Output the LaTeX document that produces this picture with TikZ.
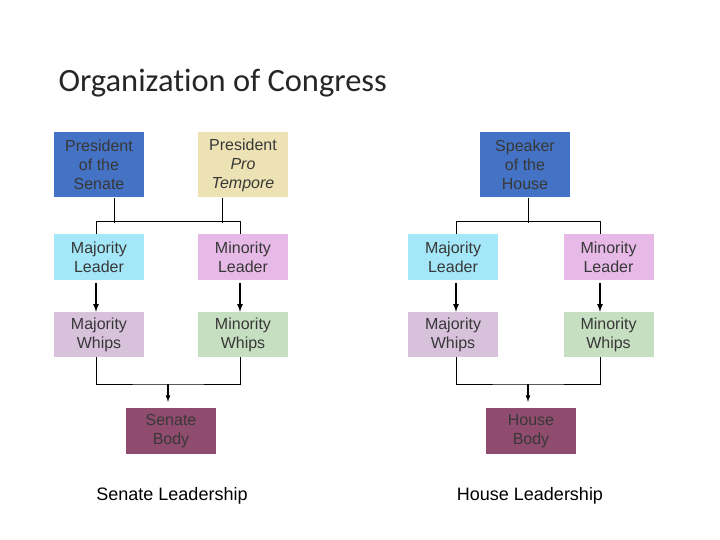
\documentclass[tikz,border=0pt]{standalone}
\usepackage{fontspec}
\setmainfont{Liberation Sans}
\newfontfamily\titlefont[Ligatures=NoCommon]{Carlito}
\usepackage{tikz}
\usetikzlibrary{arrows}
\definecolor{presBlue}{HTML}{4472C4}
\definecolor{proTan}{HTML}{EDE2B3}
\definecolor{majCyan}{HTML}{A3E7F8}
\definecolor{minPink}{HTML}{E6B9E6}
\definecolor{majWhip}{HTML}{D7C1DB}
\definecolor{minWhip}{HTML}{C7DFC1}
\definecolor{bodyMauve}{HTML}{904C6E}
\definecolor{textGrey}{HTML}{383838}
\begin{document}
\begin{tikzpicture} [
    x=1pt, y=1pt,
    edge/.style={-latex, line width=1.6pt, shorten <=3pt, color=black},
    bodyEdge/.style={-latex, line width=1.2pt, shorten >=6pt, color=black},
    line/.style={-, line width=0.9pt, color=black},
    officeBox/.style={rectangle, inner sep=0pt, align=center, minimum width=90pt, minimum height=46pt, text=textGrey, font=\fontsize{16}{19}\selectfont},
    headBox/.style={officeBox, minimum height=65pt}
]
\useasboundingbox (0,0) rectangle (720,-540);

\node[anchor=base west, font=\titlefont\fontsize{32.5}{36}\selectfont, text=black!85] (title) at (55,-92) {Organization of Congress};

% senate
\node[headBox, fill=presBlue] (pots) at (99,-165) {President\\of the\\Senate};
\node[headBox, fill=proTan] (ppt) at (243,-165) {President\\\textit{Pro}\\\textit{Tempore}};

\node[officeBox, fill=majCyan] (smaj) at (99,-257) {Majority\\Leader};
\node[officeBox, fill=minPink] (smin) at (243,-257) {Minority\\Leader};

\draw[line] ([xshift=15pt]pots.south) -- ++(0,-25);
\draw[line] ([xshift=-21pt]ppt.south) -- ++(0,-25);
\draw[line] ([xshift=-3pt]smaj.north) -- ++(0,12) -| ([xshift=-3pt]smin.north);

\node[officeBox, fill=majWhip, minimum height=45pt] (smajw) at (99,-334.5) {Majority\\Whips};
\node[officeBox, fill=minWhip, minimum height=45pt] (sminw) at (243,-334.5) {Minority\\Whips};

\draw[edge] ([xshift=-3pt]smaj.south) -- ([xshift=-3pt]smajw.north);
\draw[edge] ([xshift=-3pt]smin.south) -- ([xshift=-3pt]sminw.north);

\node[officeBox, fill=bodyMauve] (sbody) at (171,-431) {Senate\\Body};

\coordinate (sjoin) at ([xshift=-3pt]sbody.north |- 0,-384);
\draw[line] ([xshift=-3pt]smajw.south) |- (sjoin) -| ([xshift=-3pt]sminw.south);
\draw[bodyEdge] (sjoin) -- ([xshift=-3pt]sbody.north);

\node[font=\fontsize{18}{21}\selectfont] (slabel) at (172,-496) {Senate Leadership};

% house
\node[headBox, fill=presBlue] (speaker) at (525,-165) {Speaker\\of the\\House};

\node[officeBox, fill=majCyan] (hmaj) at (453,-257) {Majority\\Leader};
\node[officeBox, fill=minPink] (hmin) at (608.5,-257) {Minority\\Leader};

\draw[line] ([xshift=3pt]speaker.south) -- ++(0,-25);
\draw[line] ([xshift=3pt]hmaj.north) -- ++(0,12) -| ([xshift=-8.5pt]hmin.north);

\node[officeBox, fill=majWhip, minimum height=45pt] (hmajw) at (453,-334.5) {Majority\\Whips};
\node[officeBox, fill=minWhip, minimum height=45pt] (hminw) at (608.5,-334.5) {Minority\\Whips};

\draw[edge] ([xshift=3pt]hmaj.south) -- ([xshift=3pt]hmajw.north);
\draw[edge] ([xshift=-8.5pt]hmin.south) -- ([xshift=-8.5pt]hminw.north);

\node[officeBox, fill=bodyMauve] (hbody) at (531,-431) {House\\Body};

\coordinate (hjoin) at ([xshift=-3pt]hbody.north |- 0,-384);
\draw[line] ([xshift=3pt]hmajw.south) |- (hjoin) -| ([xshift=-8.5pt]hminw.south);
\draw[bodyEdge] (hjoin) -- ([xshift=-3pt]hbody.north);

\node[font=\fontsize{18}{21}\selectfont] (hlabel) at (530,-496) {House Leadership};

\end{tikzpicture}
\end{document}
